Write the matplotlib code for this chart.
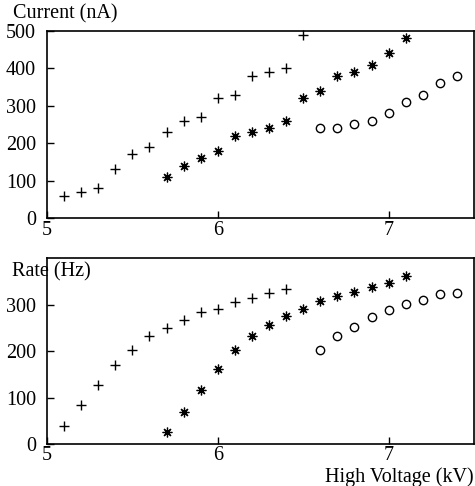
import matplotlib.pyplot as plt
import numpy as np

plt.rcParams['font.family'] = ['Liberation Serif', 'DejaVu Serif']

# high voltage (kV) for each series
hv_a = [5.1, 5.2, 5.3, 5.4, 5.5, 5.6, 5.7, 5.8, 5.9, 6.0, 6.1, 6.2, 6.3, 6.4, 6.5]
hv_b = [5.7, 5.8, 5.9, 6.0, 6.1, 6.2, 6.3, 6.4, 6.5, 6.6, 6.7, 6.8, 6.9, 7.0, 7.1]
hv_c = [6.6, 6.7, 6.8, 6.9, 7.0, 7.1, 7.2, 7.3, 7.4]

# current (nA)
cur_a = [60, 70, 80, 130, 170, 190, 230, 260, 270, 320, 330, 380, 390, 400, 490]
cur_b = [110, 140, 160, 180, 220, 230, 240, 260, 320, 340, 380, 390, 410, 440, 480]
cur_c = [240, 240, 250, 260, 280, 310, 330, 360, 380]

# rate (Hz), rate_a stops at 6.4
rate_a = [40, 84, 128, 171, 202, 232, 250, 267, 284, 292, 306, 314, 325, 334]
rate_b = [27, 69, 117, 161, 203, 233, 256, 275, 291, 309, 318, 327, 339, 347, 361]
rate_c = [203, 233, 253, 273, 289, 302, 311, 323, 326]

W, H = 475, 486
fig = plt.figure(figsize=(W / 100, H / 100), dpi=100)
ax1 = fig.add_axes([47 / W, 1 - 218 / H, 427 / W, 187 / H])
ax2 = fig.add_axes([47 / W, 1 - 444.3 / H, 427 / W, 186 / H])

star = (8, 2, 0)


def draw(ax, ya, yb, yc, xa):
    ax.plot(xa, ya, ls='none', marker='+', ms=7, mew=1.0, color='black', clip_on=False)
    ax.plot(hv_b, yb, ls='none', marker=star, ms=7, mew=0.9, color='black', clip_on=False)
    ax.plot(hv_c, yc, ls='none', marker='o', ms=6, mew=1.0, mfc='none', color='black', clip_on=False)
    ax.set_xlim(5, 7.5)
    ax.set_xticks([5, 6, 7])
    ax.tick_params(direction='in', length=5, width=1, labelsize=14.5, top=False, right=False)
    ax.tick_params(axis='x', pad=2)
    ax.tick_params(axis='y', pad=8)
    for s in ax.spines.values():
        s.set_linewidth(1.2)


draw(ax1, cur_a, cur_b, cur_c, hv_a)
ax1.set_ylim(0, 500)
ax1.set_yticks([0, 100, 200, 300, 400, 500])

draw(ax2, rate_a, rate_b, rate_c, hv_a[:len(rate_a)])
ax2.set_ylim(0, 400)
ax2.set_yticks([0, 100, 200, 300])
ax2.tick_params(axis='x', pad=1)

fig.text(13 / W, 1 - 14 / H, 'Current (nA)', fontsize=14.5, va='center', ha='left')
fig.text(12 / W, 1 - 272 / H, 'Rate (Hz)', fontsize=14.5, va='center', ha='left')
fig.text(474 / W, 1 - 477 / H, 'High Voltage (kV)', fontsize=14.5, va='center', ha='right')

fig.savefig('out.png', dpi=100)
